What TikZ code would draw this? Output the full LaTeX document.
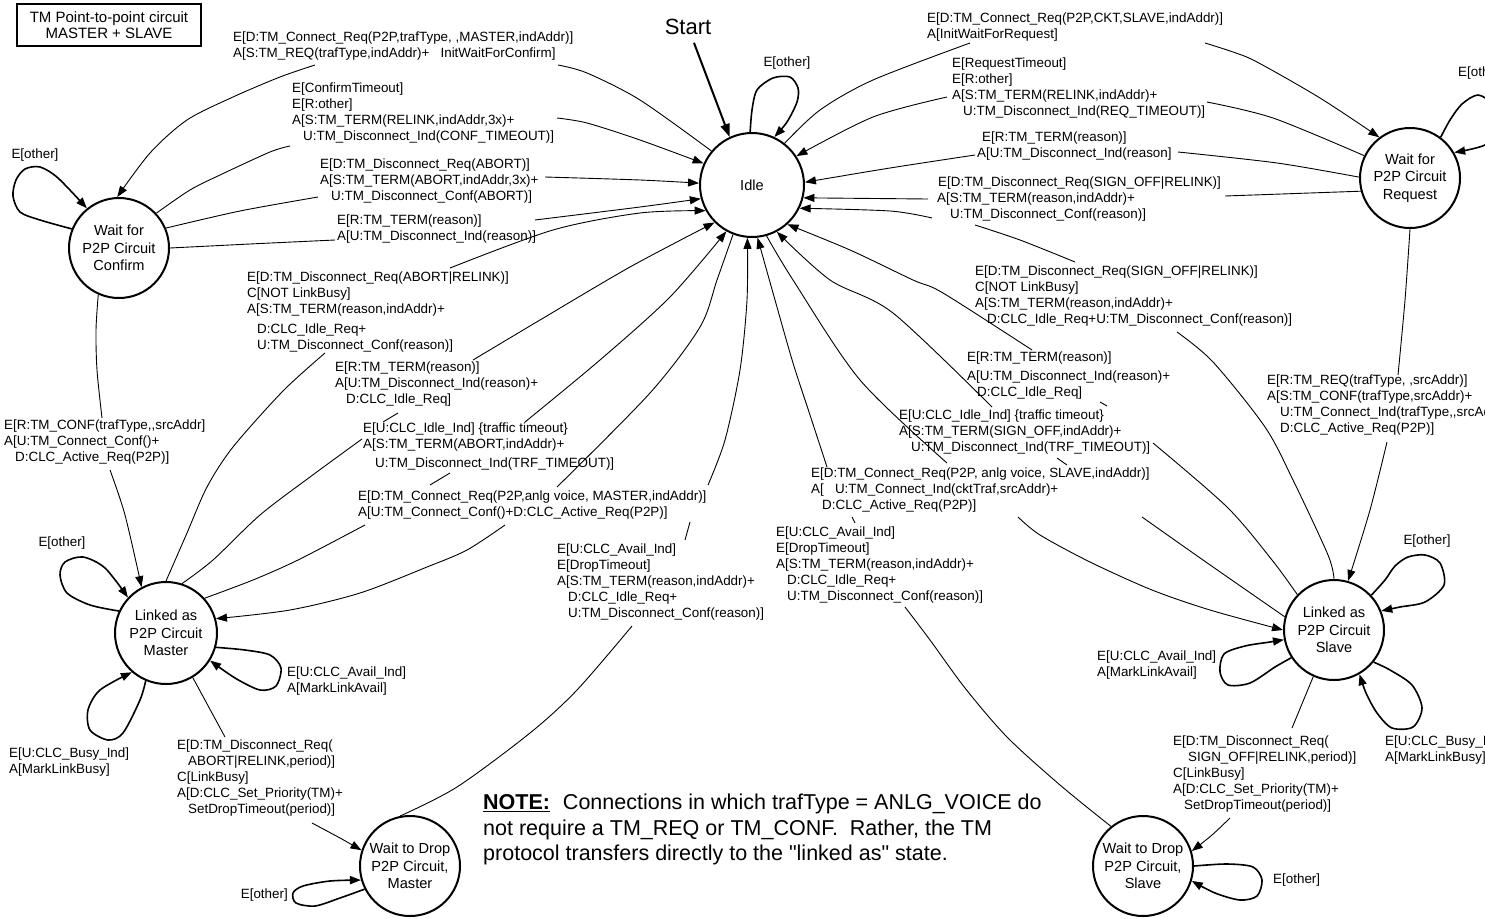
\documentclass[tikz,border=0pt]{standalone}
\usepackage{fontspec}
\setmainfont{Liberation Sans}
\usetikzlibrary{arrows.meta}
\newcommand{\lblind}[1][11pt]{\hspace*{#1}}
% two commas that must not merge into a low quote
\newcommand{\cc}{,\kern0pt,}
% straight double quote glyph, set directly
\newcommand{\sq}{\XeTeXglyph\XeTeXcharglyph"22\relax}

\begin{document}
\begin{tikzpicture}[x=1pt, y=-1pt,
  state/.style={circle, draw, line width=2pt, minimum size=100pt, inner sep=1pt,
    align=center, font=\fontsize{14.6}{17.5}\selectfont},
  lbl/.style={anchor=north west, inner sep=0pt, align=left,
    font=\fontsize{13.4}{16}\selectfont},
  tag/.style={inner sep=0pt, font=\fontsize{13.4}{16}\selectfont},
  toarrow/.style={-{Triangle[length=11pt,width=8pt]}},
  conn/.style={line width=0.9pt, line join=round},
  selfloop/.style={line width=1.6pt, line join=round, toarrow},
]
\useasboundingbox (0,0) rectangle (1485,918);
\clip (0,0) rectangle (1485,918);

% ---------- title box ----------
\node[draw, line width=1.6pt, minimum width=184pt, minimum height=42pt, inner sep=0pt,
  align=center, font=\fontsize{15}{15.5}\selectfont] (title) at (109,25)
  {TM Point-to-point circuit\\MASTER + SLAVE};

% ---------- states ----------
\node[state, minimum size=104pt] (idle) at (752,185) {Idle};
\node[state] (wc)  at (119,248)  {Wait for\\P2P Circuit\\Confirm};
\node[state] (wr)  at (1410,178) {Wait for\\P2P Circuit\\Request};
\node[state, minimum size=102pt] (lm) at (166,633) {Linked as\\P2P Circuit\\Master};
\node[state] (ls)  at (1334,630) {Linked as\\P2P Circuit\\Slave};
\node[state] (wdm) at (410,866)  {Wait to Drop\\P2P Circuit,\\Master};
\node[state] (wds) at (1143,866) {Wait to Drop\\P2P Circuit,\\Slave};

% ---------- start marker ----------
\node[inner sep=0pt, outer sep=8pt, font=\fontsize{22}{26}\selectfont] (start) at (688,27) {Start};
\draw[line width=2pt, -{Triangle[length=13pt,width=9pt]}] (start) -- (idle.115);

% ---------- free ends of the broken connectors ----------
\coordinate (l1a) at (558,65);   \coordinate (l1b) at (315,65);
\coordinate (l2a) at (290,146);  \coordinate (l2b) at (557,118);
\coordinate (l3a) at (318,197);  \coordinate (l3b) at (545,177);
\coordinate (l4a) at (335,240);  \coordinate (l4b) at (535,220);
\coordinate (l5a) at (325,353);  \coordinate (l5b) at (450,268);
\coordinate (l6a) at (362,439);  \coordinate (l6c) at (383,422);
\coordinate (l6d) at (398,413);  \coordinate (l6b) at (473,360);
\coordinate (l7a) at (365,525);  \coordinate (l7c) at (430,485);
\coordinate (l7d) at (450,473);  \coordinate (l7b) at (525,422);
\coordinate (l8a) at (557,487);  \coordinate (l8b) at (505,525);
\coordinate (l9a) at (632,626);  \coordinate (l9c) at (685,540);
\coordinate (l9d) at (690,522);  \coordinate (l9b) at (708,485);
\coordinate (l10a) at (905,607); \coordinate (l10c) at (855,523);
\coordinate (l10d) at (852,517); \coordinate (l10b) at (827,467);
\coordinate (l11a) at (947,463); \coordinate (l11b) at (1018,517);
\coordinate (l12a) at (1142,517);\coordinate (l12c) at (1067,465);
\coordinate (l12d) at (1057,458);\coordinate (l12b) at (992,407);
\coordinate (l13a) at (1153,443);\coordinate (l13c) at (1107,406);
\coordinate (l13d) at (1100,402);\coordinate (l13b) at (1032,350);
\coordinate (l14a) at (1177,332);\coordinate (l14b) at (1075,262);
\coordinate (l14c) at (975,225); \coordinate (l14d) at (932,218);
\coordinate (l15a) at (970,43);  \coordinate (l15b) at (1205,43);
\coordinate (l16a) at (1207,102);\coordinate (l16b) at (947,97);
\coordinate (l17a) at (1178,152);\coordinate (l17b) at (975,155);
\coordinate (l18a) at (1225,196);\coordinate (l18b) at (928,199);
\coordinate (l19a) at (1398,375);\coordinate (l19b) at (1387,442);
\coordinate (lca) at (102,418);  \coordinate (lcb) at (110,470);
\coordinate (ldma) at (225,737); \coordinate (ldmb) at (312,823);
\coordinate (ldsa) at (1292,728);\coordinate (ldsb) at (1230,818);

% ---------- transitions ----------
% Idle -> Wait for Confirm
\draw[conn] plot[smooth] coordinates {(idle.140) (640,100) (587,73) (l1a)};
\draw[conn,toarrow] plot[smooth] coordinates {(l1b) (280,77) (233,97) (187,120) (150,153) (wc.92)};
% Wait for Confirm -> Idle
\draw[conn] plot[smooth] coordinates {(wc.43) (190,190) (220,175) (270,152) (l2a)};
\draw[conn,toarrow] plot[smooth] coordinates {(l2b) (587,123) (640,140) (idle.156)};
\draw[conn] plot[smooth] coordinates {(wc.23) (240,211) (l3a)};
\draw[conn,toarrow] plot[smooth] coordinates {(l3b) (640,180) (idle.178)};
\draw[conn] plot[smooth] coordinates {(wc.0) (250,244) (l4a)};
\draw[conn,toarrow] plot[smooth] coordinates {(l4b) (640,207) (idle.-165)};
% Linked as Master -> Idle
\draw[conn] plot[smooth] coordinates {(lm.90) (187,533) (207,487) (233,447) (283,391) (l5a)};
\draw[conn,toarrow] plot[smooth] coordinates {(l5b) (553,230) (640,213) (idle.-151)};
\draw[conn] plot[smooth] coordinates {(lm.72) (213,560) (260,515) (310,477) (l6a)};
\draw[conn] (l6c) -- (l6d);
\draw[conn,toarrow] plot[smooth] coordinates {(l6b) (540,320) (630,267) (idle.-135)};
\draw[conn] plot[smooth] coordinates {(lm.42) (253,580) (298,560) (l7a)};
\draw[conn] (l7c) -- (l7d);
\draw[conn,toarrow] plot[smooth] coordinates {(l7b) (600,360) (670,297) (idle.-119)};
% Idle -> Linked as Master
\draw[conn] plot[smooth] coordinates {(idle.-111) (717,280) (700,327) (650,393) (l8a)};
\draw[conn,toarrow] plot[smooth] coordinates {(l8b) (467,550) (427,567) (360,593) (290,610) (lm.16)};
% Wait to Drop (Master) -> Idle
\draw[conn] plot[smooth] coordinates {(wdm.101) (457,787) (530,733) (577,690) (l9a)};
\draw[conn] (l9c) -- (l9d);
\draw[conn,toarrow] plot[smooth] coordinates {(l9b) (725,440) (740,370) (747,300) (idle.-95)};
% Wait to Drop (Slave) -> Idle
\draw[conn] plot[smooth] coordinates {(wds.129) (1060,785) (1007,737) (965,688) (930,640) (l10a)};
\draw[conn] (l10c) -- (l10d);
\draw[conn,toarrow] plot[smooth] coordinates {(l10b) (810,415) (793,363) (775,300) (idle.-84)};
% Idle -> Linked as Slave
\draw[conn] plot[smooth] coordinates {(idle.-74) (793,280) (860,380) (l11a)};
\draw[conn,toarrow] plot[smooth] coordinates {(l11b) (1040,535) (1090,562) (1152,590) (1210,610) (ls.180)};
% Linked as Slave -> Idle
\draw[conn] plot[smooth] coordinates {(ls.165) (1203,560) (l12a)};
\draw[conn] (l12c) -- (l12d);
\draw[conn,toarrow] plot[smooth] coordinates {(l12b) (893,313) (830,280) (idle.-62)};
\draw[conn] plot[smooth] coordinates {(ls.136) (1272,560) (1227,507) (l13a)};
\draw[conn] (l13c) -- (l13d);
\draw[conn,toarrow] plot[smooth] coordinates {(l13b) (943,293) (913,280) (850,250) (idle.-48)};
\draw[conn] plot[smooth] coordinates {(ls.90) (1328,555) (1293,480) (1265,427) (1213,362) (l14a)};
\draw[conn] plot[smooth] coordinates {(l14b) (1020,240) (l14c)};
\draw[conn,toarrow] plot[smooth] coordinates {(l14d) (890,211) (idle.-26)};
% Idle -> Wait for Request
\draw[conn] plot[smooth] coordinates {(idle.52) (820,110) (873,80) (l15a)};
\draw[conn,toarrow] plot[smooth] coordinates {(l15b) (1233,52) (1257,62) (1320,98) (wr.127)};
% Wait for Request -> Idle
\draw[conn] plot[smooth] coordinates {(wr.154) (1273,118) (l16a)};
\draw[conn,toarrow] plot[smooth] coordinates {(l16b) (873,117) (idle.33)};
\draw[conn] plot[smooth] coordinates {(wr.179) (1277,163) (l17a)};
\draw[conn,toarrow] plot[smooth] coordinates {(l17b) (890,168) (idle.3)};
\draw[conn] (wr.-165) -- (l18a);
\draw[conn,toarrow] (l18b) -- (idle.-14);
% Wait for Request -> Linked as Slave
\draw[conn] plot[smooth] coordinates {(wr.-90) (1405,300) (l19a)};
\draw[conn,toarrow] plot[smooth] coordinates {(l19b) (1370,510) (ls.74)};
% Wait for Confirm -> Linked as Master
\draw[conn] plot[smooth] coordinates {(wc.-114) (96,330) (97,370) (lca)};
\draw[conn,toarrow] plot[smooth] coordinates {(lcb) (125,515) (lm.118)};
% Linked -> Wait to Drop
\draw[conn] (lm.-59) -- (ldma);
\draw[conn,toarrow] plot[smooth] coordinates {(ldmb) (340,838) (wdm.162)};
\draw[conn] (ls.-114) -- (ldsa);
\draw[conn,toarrow] plot[smooth] coordinates {(ldsb) (1212,835) (wds.17)};

% ---------- self loops ----------
\draw[selfloop] plot[smooth] coordinates {(idle.92) (752,110) (757,90) (773,78) (790,77) (798,88) (797,102) (787,122) (idle.65)};
\draw[selfloop] plot[smooth] coordinates {(wc.158) (40,220) (20,212) (13,196) (16,180) (25,169) (40,167) (58,178) (wc.129)};
\draw[selfloop] plot[smooth] coordinates {(lm.155) (90,605) (67,593) (60,575) (65,562) (83,557) (105,568) (lm.137)};
\draw[selfloop] plot[smooth] coordinates {(lm.-16) (245,650) (270,655) (281,668) (276,686) (260,690) (235,678) (lm.-32)};
\draw[selfloop] plot[smooth] coordinates {(lm.-113) (140,700) (123,733) (108,740) (90,730) (88,710) (100,690) (lm.-131)};
\draw[selfloop] plot[smooth] coordinates {(wdm.-153) (340,898) (315,906) (296,903) (293,893) (303,886) (330,881) (wdm.-164)};
\draw[selfloop] plot[smooth] coordinates {(wr.53) (1450,120) (1462,104) (1478,95) (1492,105) (1495,130) (1485,145) (wr.30)};
\draw[selfloop] plot[smooth] coordinates {(ls.43) (1385,580) (1395,566) (1408,557) (1425,555) (1440,563) (1444,585) (1425,602) (1400,607) (ls.22)};
\draw[selfloop] plot[smooth] coordinates {(ls.-147) (1275,667) (1250,683) (1228,685) (1220,672) (1224,654) (1245,646) (1270,642) (ls.-169)};
\draw[selfloop] plot[smooth] coordinates {(ls.-39) (1390,670) (1412,685) (1422,708) (1413,727) (1392,728) (1377,713) (1366,693) (ls.-60)};
\draw[selfloop] plot[smooth] coordinates {(wds.0) (1227,864) (1253,867) (1262,880) (1257,896) (1240,900) (1215,893) (wds.-17)};

% ---------- self-loop labels ----------
\node[tag] (tIdle) at (787,63) {E[other]};
\node[tag] (tWc) at (35,155) {E[other]};
\node[tag] (tLm) at (62,543) {E[other]};
\node[lbl] (tLmAvail) at (287,667) {E[U:CLC\_Avail\_Ind]\\A[MarkLinkAvail]};
\node[lbl] (tLmBusy) at (9,748) {E[U:CLC\_Busy\_Ind]\\A[MarkLinkBusy]};
\node[tag, anchor=east] (tWdm) at (288,895) {E[other]};
\node[tag, anchor=west] (tWr) at (1458,73) {E[other]};
\node[tag] (tLs) at (1427,541) {E[other]};
\node[lbl] (tLsAvail) at (1097,651) {E[U:CLC\_Avail\_Ind]\\A[MarkLinkAvail]};
\node[lbl] (tLsBusy) at (1385,736) {E[U:CLC\_Busy\_Ind]\\A[MarkLinkBusy]};
\node[tag, anchor=west] (tWds) at (1273,880) {E[other]};

% ---------- transition labels ----------
\node[lbl] (n1) at (233,32) {E[D:TM\_Connect\_Req(P2P,trafType, ,MASTER,indAddr)]\\
  A[S:TM\_REQ(trafType,indAddr)+\ \ \ InitWaitForConfirm]};
\node[lbl] (n2) at (292,83) {E[ConfirmTimeout]\\E[R:other]\\
  A[S:TM\_TERM(RELINK,indAddr,3x)+\\\lblind U:TM\_Disconnect\_Ind(CONF\_TIMEOUT)]};
\node[lbl] (n3) at (320,159) {E[D:TM\_Disconnect\_Req(ABORT)]\\
  A[S:TM\_TERM(ABORT,indAddr,3x)+\\\lblind U:TM\_Disconnect\_Conf(ABORT)]};
\node[lbl] (n4) at (337,215) {E[R:TM\_TERM(reason)]\\A[U:TM\_Disconnect\_Ind(reason)]};
\node[lbl] (n5) at (247,272) {E[D:TM\_Disconnect\_Req(ABORT|RELINK)]\\C[NOT LinkBusy]\\
  A[S:TM\_TERM(reason,indAddr)+\\[4pt]\lblind[10pt]D:CLC\_Idle\_Req+\\
  \lblind[10pt]U:TM\_Disconnect\_Conf(reason)]};
\node[lbl] (n6) at (335,362) {E[R:TM\_TERM(reason)]\\A[U:TM\_Disconnect\_Ind(reason)+\\
  \lblind D:CLC\_Idle\_Req]};
\node[lbl] (n7) at (363,423) {E[U:CLC\_Idle\_Ind] \{traffic timeout\}\\
  A[S:TM\_TERM(ABORT,indAddr)+\\[3pt]\lblind[12pt]U:TM\_Disconnect\_Ind(TRF\_TIMEOUT)]};
\node[lbl] (n8) at (358,491) {E[D:TM\_Connect\_Req(P2P,anlg voice, MASTER,indAddr)]\\
  A[U:TM\_Connect\_Conf()+D:CLC\_Active\_Req(P2P)]};
\node[lbl] (n9) at (557,544) {E[U:CLC\_Avail\_Ind]\\E[DropTimeout]\\
  A[S:TM\_TERM(reason,indAddr)+\\\lblind D:CLC\_Idle\_Req+\\\lblind U:TM\_Disconnect\_Conf(reason)]};
\node[lbl] (n10) at (776,527) {E[U:CLC\_Avail\_Ind]\\E[DropTimeout]\\
  A[S:TM\_TERM(reason,indAddr)+\\\lblind D:CLC\_Idle\_Req+\\\lblind U:TM\_Disconnect\_Conf(reason)]};
\node[lbl] (n11) at (811,468) {E[D:TM\_Connect\_Req(P2P, anlg voice, SLAVE,indAddr)]\\
  A[\ \ \ U:TM\_Connect\_Ind(cktTraf,srcAddr)+\\\lblind D:CLC\_Active\_Req(P2P)]};
\node[lbl] (n12) at (899,410) {E[U:CLC\_Idle\_Ind] \{traffic timeout\}\\
  A[S:TM\_TERM(SIGN\_OFF,indAddr)+\\\lblind[12pt]U:TM\_Disconnect\_Ind(TRF\_TIMEOUT)]};
\node[lbl] (n13) at (967,352) {E[R:TM\_TERM(reason)]\\[3pt]A[U:TM\_Disconnect\_Ind(reason)+\\
  \lblind[10pt]D:CLC\_Idle\_Req]};
\node[lbl] (n14) at (975,266) {E[D:TM\_Disconnect\_Req(SIGN\_OFF|RELINK)]\\C[NOT LinkBusy]\\
  A[S:TM\_TERM(reason,indAddr)+\\\lblind[12pt]D:CLC\_Idle\_Req+U:TM\_Disconnect\_Conf(reason)]};
\node[lbl] (n15) at (927,13) {E[D:TM\_Connect\_Req(P2P,CKT,SLAVE,indAddr)]\\A[InitWaitForRequest]};
\node[lbl] (n16) at (952,58) {E[RequestTimeout]\\E[R:other]\\
  A[S:TM\_TERM(RELINK,indAddr)+\\\lblind U:TM\_Disconnect\_Ind(REQ\_TIMEOUT)]};
\node[lbl] (n17) at (977,132) {\lblind[5pt]E[R:TM\_TERM(reason)]\\A[U:TM\_Disconnect\_Ind(reason]};
\node[lbl] (n18) at (937,177) {\lblind[1pt]E[D:TM\_Disconnect\_Req(SIGN\_OFF|RELINK)]\\
  A[S:TM\_TERM(reason,indAddr)+\\\lblind[13pt]U:TM\_Disconnect\_Conf(reason)]};
\node[lbl] (n19) at (1267,375) {E[R:TM\_REQ(trafType, ,srcAddr)]\\A[S:TM\_CONF(trafType,srcAddr)+\\
  \lblind[13pt]U:TM\_Connect\_Ind(trafType\cc srcAddr)+\\\lblind[13pt]D:CLC\_Active\_Req(P2P)]};
\node[lbl] (nc) at (4,420) {E[R:TM\_CONF(trafType\cc srcAddr]\\A[U:TM\_Connect\_Conf()+\\
  \lblind D:CLC\_Active\_Req(P2P)]};
\node[lbl] (ndm) at (177,740) {E[D:TM\_Disconnect\_Req(\\\lblind ABORT|RELINK,period)]\\C[LinkBusy]\\
  A[D:CLC\_Set\_Priority(TM)+\\\lblind SetDropTimeout(period)]};
\node[lbl] (nds) at (1173,736) {E[D:TM\_Disconnect\_Req(\\\lblind[15pt]SIGN\_OFF|RELINK,period)]\\C[LinkBusy]\\
  A[D:CLC\_Set\_Priority(TM)+\\\lblind SetDropTimeout(period)]};

% ---------- note ----------
\node[anchor=north west, inner sep=0pt, align=left, font=\fontsize{21.5}{25.5}\selectfont] (note) at (483,794)
  {\underline{\textbf{NOTE:}}\hspace{0.6em}Connections in which trafType = ANLG\_VOICE do\\
   not require a TM\_REQ or TM\_CONF.\hspace{0.55em}Rather, the TM\\
   protocol transfers directly to the \sq linked as\sq\ state.};
\end{tikzpicture}
\end{document}
